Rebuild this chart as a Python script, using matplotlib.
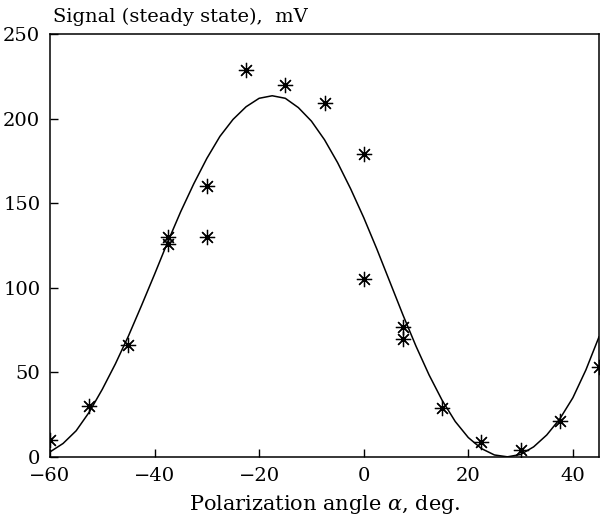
import numpy as np
import matplotlib
matplotlib.use("Agg")
import matplotlib.pyplot as plt

plt.rcParams['font.family'] = 'DejaVu Serif'
plt.rcParams['mathtext.fontset'] = 'dejavuserif'

# measured steady-state signal vs polarization angle
angle_meas = [-60, -52.5, -45, -37.5, -37.5, -30, -30, -22.5, -15, -7.5,
              0, 0, 7.5, 7.5, 15, 22.5, 30, 37.5, 45]
signal_meas = [10, 30, 66, 130, 126, 160, 130, 229, 220, 209,
               179, 105, 77, 70, 29, 9, 4, 21, 53]

# fitted curve
angle_fit = [-60, -57.5, -55, -52.5, -50, -47.5, -45, -42.5, -40, -37.5,
             -35, -32.5, -30, -27.5, -25, -22.5, -20, -17.5, -15, -12.5,
             -10, -7.5, -5, -2.5, 0, 2.5, 5, 7.5, 10, 12.5,
             15, 17.5, 20, 22.5, 25, 27.5, 30, 32.5, 35, 37.5,
             40, 42.5, 45]
signal_fit = [3, 8, 15.5, 26.5, 40, 55, 71.5, 89.5, 108, 127,
              145, 161.5, 176.5, 189.5, 199.5, 207, 212, 213.5, 212, 206.5,
              198.5, 187.5, 174, 158.5, 141.5, 123, 103.5, 84, 65.5, 48.5,
              33.5, 21, 11.5, 5, 1.2, 0.1, 1.5, 6, 13, 22.5,
              35, 51.5, 71]

fig = plt.figure(figsize=(6.01, 5.26), dpi=100)
ax = fig.add_axes([50/601, 69/526, 549/601, 423/526])

ax.plot(angle_fit, signal_fit, color='black', lw=1.1,
        solid_joinstyle='round')
ax.plot(angle_meas, signal_meas, linestyle='none', marker=(8, 2, 0),
        markersize=11, markeredgewidth=0.9, color='black')
ax.plot(angle_meas, signal_meas, linestyle='none', marker='o',
        markersize=2.2, color='black')

ax.set_xlim(-60, 45)
ax.set_ylim(0, 250)
ax.set_xticks([-60, -40, -20, 0, 20, 40])
ax.set_yticks([0, 50, 100, 150, 200, 250])
ax.set_xticklabels(['\u221260', '\u221240', '\u221220', '0', '20', '40'])
ax.tick_params(direction='in', length=6, width=1, labelsize=14,
               top=False, right=False, pad=7)
for s in ax.spines.values():
    s.set_linewidth(1.1)

fig.text(53/601, 1 - 17/526, 'Signal (steady state),  mV', fontsize=14,
         ha='left', va='center')
ax.set_xlabel(r'Polarization angle $\alpha$, deg.', fontsize=15, labelpad=6)

fig.savefig('out.png', dpi=100)
